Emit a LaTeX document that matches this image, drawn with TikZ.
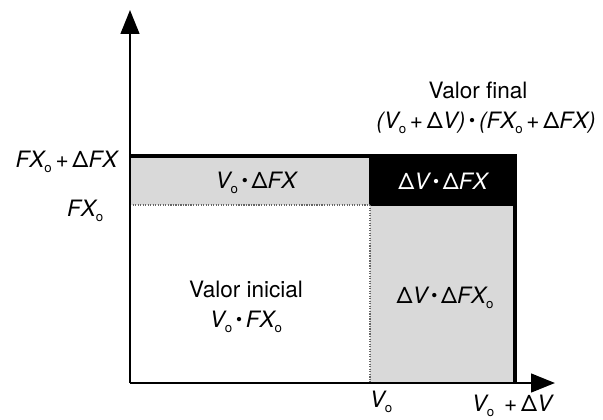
\documentclass[tikz,border=0pt]{standalone}
\usepackage{fontspec}
\setmainfont{TeX Gyre Heros}
\usetikzlibrary{positioning, arrows.meta, calc}

\newcommand{\subo}{\raisebox{-0.45ex}{\fontsize{10}{10}\selectfont\upshape o}}
\newcommand{\pd}{\,\raisebox{0.15ex}{\fontsize{13}{13}\selectfont\upshape •}\,}
\newcommand{\dlt}{{\upshape Δ}}
\newcommand{\pls}{\,{\upshape+}\,}

\begin{document}
\begin{tikzpicture}[
    x=0.0265cm, y=-0.0265cm,
    axis/.style={line width=1.9pt, -{Triangle[length=18pt, width=14pt]}},
    frame/.style={line width=2.4pt},
    divider/.style={line width=0.9pt, densely dotted, black!60},
    lightcell/.style={fill=black!15},
    darkcell/.style={fill=black, draw=black, line width=1pt},
    celltext/.style={font=\fontsize{17}{19}\selectfont\itshape},
    axistext/.style={font=\fontsize{17}{19}\selectfont\itshape}
]
\useasboundingbox (0,0) rectangle (603,420);

% Punkte
\coordinate (origin) at (130,383);
\coordinate (ytip) at (130,10);
\coordinate (xtip) at (555,383);
\coordinate (topleft) at (130,156);
\coordinate (topright) at (515,156);
\coordinate (botright) at (515,383);
\coordinate (midleft) at (130,205);
\coordinate (mid) at (370,205);
\coordinate (midtop) at (370,156);
\coordinate (midbot) at (370,383);
\coordinate (midright) at (515,205);

% Flaechen
\fill[lightcell] (topleft) rectangle (mid);
\fill[lightcell] (mid) rectangle (botright);
\draw[darkcell] (midtop) rectangle (midright);

% Trennlinien
\draw[divider] (midleft) -- (mid);
\draw[divider] (mid) -- (midbot);
\draw[frame] (topleft) -- (topright) -- (botright);

% Achsen
\draw[axis] (origin) -- (ytip);
\draw[axis] (origin) -- (xtip);

% Texte
\node[celltext] (vdfx) at (256,183) {V\subo\pd\dlt FX};
\node[celltext, text=white] (dvdfx) at (443,181) {\dlt V\pd\dlt FX};
\node[celltext] (inicial) at (246,289) {\upshape Valor inicial};
\node[celltext] (vfx) at (246,322) {V\subo\pd FX\subo};
\node[celltext] (dvfx) at (445,298) {\dlt V\pd\dlt FX\subo};
\node[celltext] (final) at (478,90) {\upshape Valor final};
\node[celltext] (finalprod) at (486,123) {(V\subo\pls\dlt V)\pd(FX\subo\pls\dlt FX)};
\node[axistext, anchor=east] (fxtop) at (122,162) {FX\subo\pls\dlt FX};
\node[axistext, anchor=east] (fxo) at (108,211) {FX\subo};
\node[axistext] (vo) at (381,402) {V\subo};
\node[axistext] (vdv) at (512,406) {V\subo\ \pls\dlt V};

\end{tikzpicture}
\end{document}
